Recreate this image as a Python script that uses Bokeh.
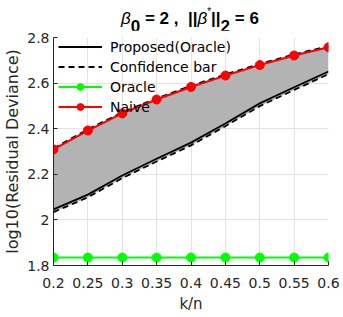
from bokeh.plotting import figure
from bokeh.models import Legend, LegendItem, FixedTicker, Range1d, Div
from bokeh.layouts import column
from bokeh.embed import file_html
from bokeh.resources import INLINE

k_n = [0.2, 0.25, 0.3, 0.35, 0.4, 0.45, 0.5, 0.55, 0.6]
naive = [2.309, 2.392, 2.467, 2.528, 2.583, 2.633, 2.679, 2.721, 2.757]
proposed = [2.046, 2.111, 2.195, 2.268, 2.339, 2.423, 2.511, 2.582, 2.651]
conf_upper = [2.314, 2.397, 2.472, 2.533, 2.588, 2.638, 2.684, 2.726, 2.762]
conf_lower = [2.034, 2.099, 2.183, 2.256, 2.327, 2.411, 2.499, 2.570, 2.639]
oracle = [1.835, 1.835, 1.835, 1.835, 1.835, 1.835, 1.835, 1.835, 1.835]
x_ticks = [0.2, 0.25, 0.3, 0.35, 0.4, 0.45, 0.5, 0.55, 0.6]
y_ticks = [1.8, 2.0, 2.2, 2.4, 2.6, 2.8]

FONT = "DejaVu Sans"
TFONT = "Liberation Sans"
AX = "#262626"

title_html = (
    '<span style="font-style:italic;font-weight:normal">β</span>'
    '<span style="position:relative;top:8px">0</span>'
    ' = 2 ,&nbsp; ||'
    '<span style="font-style:italic;font-weight:normal">β</span>'
    '<span style="position:relative;top:-9px;font-size:10px;font-weight:normal">*</span>'
    '||<span style="position:relative;top:8px">2</span> = 6'
)
title_div = Div(text=title_html, width=340, height=30, margin=(0, 0, 0, 0),
                styles={"font-family": TFONT, "font-size": "17px", "font-weight": "bold",
                        "color": "black", "padding-left": "121px", "padding-top": "10px",
                        "line-height": "1", "white-space": "nowrap"})

p = figure(width=340, height=286, output_backend="svg", toolbar_location=None,
           x_range=Range1d(0.2, 0.6), y_range=Range1d(1.8, 2.8),
           frame_width=275, frame_height=228,
           min_border_left=53, min_border_top=7, min_border_right=12, min_border_bottom=51)
p.margin = (0, 0, 0, 0)
p.outline_line_color = None

for ax in (p.xaxis[0], p.yaxis[0]):
    ax.axis_line_color = AX
    ax.major_tick_line_color = AX
    ax.major_tick_in = 4
    ax.major_tick_out = 0
    ax.minor_tick_line_color = None
    ax.major_label_text_font = FONT
    ax.major_label_text_font_size = "14px"
    ax.major_label_text_color = AX
    ax.axis_label_text_font = FONT
    ax.axis_label_text_font_style = "normal"
    ax.axis_label_text_color = AX

p.xaxis[0].major_label_standoff = 12
p.xaxis[0].axis_label_standoff = 4
p.xaxis[0].axis_label_text_font_size = "15px"
p.yaxis[0].major_label_standoff = 4
p.yaxis[0].axis_label_standoff = 2
p.yaxis[0].axis_label_text_font_size = "16px"

p.xaxis[0].ticker = FixedTicker(ticks=x_ticks)
p.yaxis[0].ticker = FixedTicker(ticks=y_ticks)
p.xaxis[0].major_label_overrides = {0.2: "0.2", 0.25: "0.25", 0.3: "0.3", 0.35: "0.35", 0.4: "0.4",
                                    0.45: "0.45", 0.5: "0.5", 0.55: "0.55", 0.6: "0.6"}
p.yaxis[0].major_label_overrides = {1.8: "1.8", 2.0: "2", 2.2: "2.2", 2.4: "2.4", 2.6: "2.6", 2.8: "2.8"}
p.xaxis[0].axis_label = "k/n"
p.yaxis[0].axis_label = "log10(Residual Deviance)"

p.xgrid.grid_line_color = "#e3e3e3"
p.ygrid.grid_line_color = "#e3e3e3"

# shaded confidence band
p.varea(x=k_n, y1=conf_lower, y2=conf_upper, fill_color="#b3b3b3", fill_alpha=1.0)

r_prop = p.line(k_n, proposed, line_color="black", line_width=1.8)
r_cu = p.line(k_n, conf_upper, line_color="black", line_width=1.8, line_dash="6 4")
r_cl = p.line(k_n, conf_lower, line_color="black", line_width=1.8, line_dash="6 4")

r_or_l = p.line(k_n, oracle, line_color="#00ff00", line_width=2)
r_or_m = p.scatter(k_n, oracle, marker="circle", size=9, fill_color="#00ff00", line_color="#00ff00")
r_nv_l = p.line(k_n, naive, line_color="#ff0000", line_width=2)
r_nv_m = p.scatter(k_n, naive, marker="circle", size=9, fill_color="#ff0000", line_color="#ff0000")

# legend-only error bar glyphs
r_or_e = p.scatter(x=[], y=[], marker="dash", angle=1.5708, size=18, line_color="#00ff00", line_width=1.5)
r_nv_e = p.scatter(x=[], y=[], marker="dash", angle=1.5708, size=18, line_color="#ff0000", line_width=1.5)

legend = Legend(items=[
    LegendItem(label="Proposed(Oracle)", renderers=[r_prop]),
    LegendItem(label="Confidence bar", renderers=[r_cu]),
    LegendItem(label="Oracle", renderers=[r_or_l, r_or_m, r_or_e]),
    LegendItem(label="Naive", renderers=[r_nv_l, r_nv_m, r_nv_e]),
], location=(5, 150))
legend.margin = 0
legend.padding = 0
legend.spacing = 3
legend.glyph_width = 44
legend.glyph_height = 17
legend.label_height = 17
legend.label_standoff = 8
legend.label_text_font = FONT
legend.label_text_font_size = "14px"
legend.label_text_color = "black"
legend.background_fill_alpha = 0
legend.border_line_alpha = 0
p.add_layout(legend)

layout = column(title_div, p, spacing=0)
open("out.html", "w").write(file_html(layout, INLINE))
